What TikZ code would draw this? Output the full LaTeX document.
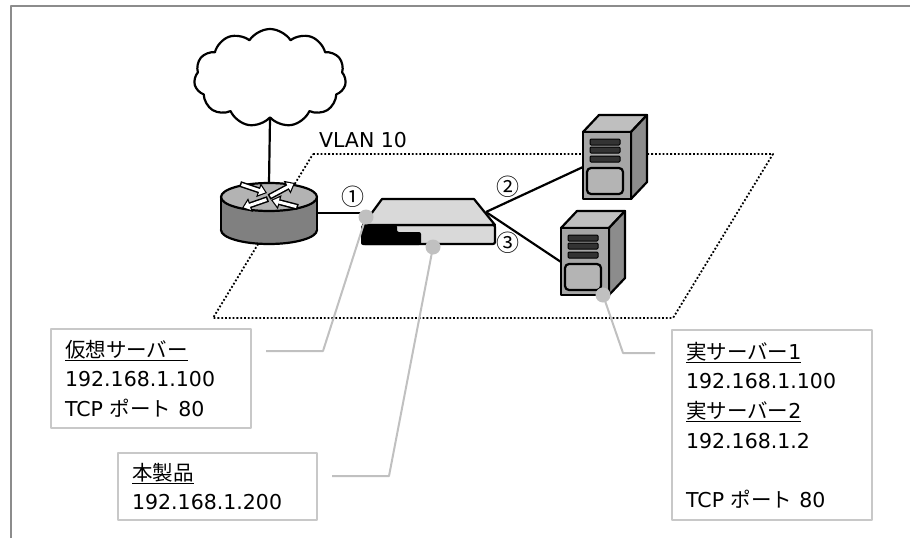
\documentclass[tikz,border=0pt]{standalone}
\usepackage{fontspec}
\setmainfont{DejaVu Sans}
\newfontfamily\jp{Noto Sans CJK JP}
\usetikzlibrary{shapes.symbols,arrows.meta}

\definecolor{framegray}{HTML}{8C8C8C}
\definecolor{boxgray}{HTML}{C8C8C8}
\definecolor{leadgray}{HTML}{C0C0C0}
\definecolor{rttop}{HTML}{B3B3B3}
\definecolor{rtside}{HTML}{808080}
\definecolor{swface}{HTML}{D9D9D9}
\definecolor{srvfront}{HTML}{A6A6A6}
\definecolor{srvtop}{HTML}{BFBFBF}
\definecolor{srvside}{HTML}{8C8C8C}
\definecolor{srvbay}{HTML}{333333}
\definecolor{srvpanel}{HTML}{B4B4B4}

% server box, origin at the top left corner of its front
\newcommand\drawserver[2]{%
  \begin{scope}[shift={(#1,#2)}]
    \filldraw[fill=srvtop] (0,0) -- (16,-17) -- (64,-17) -- (48,0) -- cycle;
    \filldraw[fill=srvside] (48,0) -- (64,-17) -- (64,50) -- (48,67) -- cycle;
    \filldraw[fill=srvfront] (0,0) rectangle (48,67);
    \foreach \y in {7,15,24}
      \filldraw[fill=srvbay, line width=1pt, rounded corners=1pt] (7,\y) rectangle (37,\y+6);
    \filldraw[fill=srvpanel, rounded corners=4pt] (4,36) rectangle (40,62);
  \end{scope}}

\begin{document}
\begin{tikzpicture}[x=1pt, y=-1pt, line width=2.2pt, line join=round,
    infobox/.style={draw=boxgray, line width=2.2pt, anchor=north west, inner xsep=14pt,
      align=left, font=\fontsize{20.5}{29.6}\selectfont},
    leader/.style={draw=leadgray, line width=2pt},
    pin/.style={fill=leadgray},
    portlabel/.style={font=\jp\fontsize{23}{24}\selectfont, inner sep=0pt},
    rarrow/.style={line width=6pt, -{Triangle[length=9pt, width=14pt]}},
    rarrowin/.style={white, line width=3pt, shorten >=1.8pt, shorten <=1.6pt,
      -{Triangle[length=6pt, width=9pt]}}]
\useasboundingbox (0,0) rectangle (910,538);

% frame
\draw[framegray, line width=2.2pt] (11,538) -- (11,6) -- (910,6);

% VLAN area
\draw[dotted, line width=1.8pt] (313,154) -- (773,154) -- (673,318) -- (213,318) -- cycle;
\node[anchor=base west, inner sep=0pt, font=\fontsize{20.5}{24}\selectfont] (vlan) at (318,147) {VLAN 10};

% connection points
\coordinate (rt-top) at (269,183);
\coordinate (rt-east) at (317,213);
\coordinate (sw-west) at (366,213);
\coordinate (sw-port) at (486,212);
\coordinate (srv1) at (583,167);
\coordinate (srv2) at (561,262);

% internet
\node[cloud, cloud puffs=11, cloud puff arc=115, cloud ignores aspect, draw, fill=white,
  minimum width=152pt, minimum height=98pt, inner sep=0pt] (net) at (270,78) {};
\draw (net.south) -- (rt-top);

% cables
\draw (rt-east) -- (sw-west);
\draw (sw-port) -- (srv1);
\draw (sw-port) -- (srv2);
\node[portlabel] (p1) at (353,197) {①};
\node[portlabel] (p2) at (508,187) {②};
\node[portlabel] (p3) at (508,243) {③};

% router
\filldraw[fill=rtside] (269,230) ellipse [x radius=48, y radius=14];
\fill[rtside] (221,197) rectangle (317,230);
\draw (221,197) -- (221,230) (317,197) -- (317,230);
\filldraw[fill=rttop] (269,197) ellipse [x radius=48, y radius=14];
\draw[rarrow] (240,184) -- (267,193);
\draw[rarrowin] (240,184) -- (267,193);
\draw[rarrow] (269,197) -- (295,183);
\draw[rarrowin] (269,197) -- (295,183);
\draw[rarrow] (298,207) -- (271,200);
\draw[rarrowin] (298,207) -- (271,200);
\draw[rarrow] (268,199) -- (242,208);
\draw[rarrowin] (268,199) -- (242,208);

% switch (this product)
\filldraw[fill=swface, rounded corners=2pt] (363,225) -- (495,225) -- (495,244) -- (363,244) -- cycle;
\fill[black, rounded corners=2pt] (361,225) -- (397,225) -- (397,232) -- (421,232) -- (421,245) -- (361,245) -- cycle;
\filldraw[fill=swface] (382,199) -- (474,199) -- (495,225) -- (363,225) -- cycle;

% real servers
\drawserver{583}{132}
\drawserver{561}{228}

% pins
\fill[pin] (366,217) circle [radius=7.5];
\fill[pin] (433,247) circle [radius=7.5];
\fill[pin] (603,295) circle [radius=7.5];

% labels
\node[infobox, text width=172pt, minimum height=99pt] (vsrv) at (50,328)
  {\underline{\jp 仮想サーバー}\\192.168.1.100\\TCP {\jp ポート} 80};
\node[infobox, text width=171pt, minimum height=67pt] (self) at (117,452)
  {\underline{\jp 本製品}\\192.168.1.200};
\node[infobox, text width=172pt, minimum height=190pt] (rsrv) at (671,329)
  {\underline{{\jp 実サーバー}1}\\192.168.1.100\\\underline{{\jp 実サーバー}2}\\192.168.1.2\\[29.6pt]TCP {\jp ポート} 80};

% leaders
\coordinate (vsrv-end) at (266,351);
\coordinate (self-end) at (332,476);
\coordinate (rsrv-end) at (655,353);
\draw[leader] (vsrv-end) -- (323,351) -- (366,217);
\draw[leader] (self-end) -- (389,476) -- (433,247);
\draw[leader] (rsrv-end) -- (623,353) -- (603,295);
\end{tikzpicture}
\end{document}
